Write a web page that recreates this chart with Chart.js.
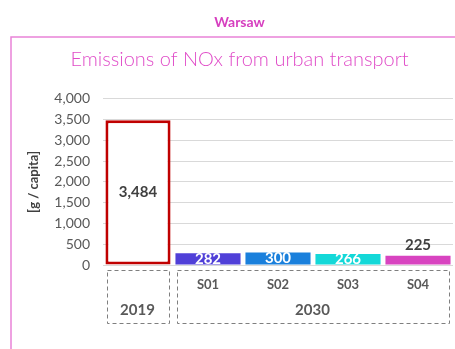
<!DOCTYPE html>
<html>
<head>
<meta charset="utf-8">
<script src="https://cdn.jsdelivr.net/npm/chart.js@4.4.1/dist/chart.umd.min.js"></script>
<style>
  html, body { margin: 0; padding: 0; background: #fff; }
  #wrap { width: 455px; height: 349px; position: relative; }
</style>
</head>
<body>
<div id="wrap"><canvas id="noxChart"></canvas></div>
<script>
// categories and values (g per capita)
const categories = ['2019', 'S01', 'S02', 'S03', 'S04'];
const emissions = [3484, 282, 300, 266, 225];
const barFills = ['#ffffff', '#5040d8', '#1a80dc', '#14d8d8', '#d844c0'];
const barBorders = ['#c00000', '#5040d8', '#1a80dc', '#14d8d8', '#d844c0'];
const labelColors = ['#404040', '#ffffff', '#ffffff', '#ffffff', '#404040'];
const labelInside = [true, true, true, true, false];
const yTicks = [0, 500, 1000, 1500, 2000, 2500, 3000, 3500, 4000];
// year groups under the scenarios
const groupNames = ['2019', '2030'];
const groupFirst = [0, 1];
const groupLast = [0, 4];

const FONT = 'Lato, "Open Sans", sans-serif';

// outer pink frame
const framePlugin = {
    id: 'frame',
    beforeDraw(chart) {
        const ctx = chart.ctx;
        ctx.save();
        ctx.strokeStyle = '#e982d8';
        ctx.lineWidth = 1.5;
        ctx.beginPath();
        ctx.moveTo(11, chart.height);
        ctx.lineTo(11, 37);
        ctx.lineTo(chart.width, 37);
        ctx.stroke();
        ctx.restore();
    }
};

// value labels on the bars
const valueLabels = {
    id: 'valueLabels',
    afterDatasetsDraw(chart) {
        const ctx = chart.ctx;
        const meta = chart.getDatasetMeta(0);
        ctx.save();
        ctx.textAlign = 'center';
        ctx.font = 'bold 15px ' + FONT;
        meta.data.forEach((bar, i) => {
            const v = emissions[i];
            ctx.fillStyle = labelColors[i];
            let y;
            if (labelInside[i]) {
                ctx.textBaseline = 'middle';
                y = (bar.y + bar.base) / 2;
            } else {
                ctx.textBaseline = 'bottom';
                y = bar.y - 3;
            }
            ctx.fillText(v.toLocaleString('en-US'), bar.x, y);
        });
        ctx.restore();
    }
};

// category labels and dashed year boxes below the axis
const groupAxis = {
    id: 'groupAxis',
    afterDraw(chart) {
        const ctx = chart.ctx;
        const x = chart.scales.x;
        const half = (x.getPixelForValue(1) - x.getPixelForValue(0)) / 2;
        const top = chart.chartArea.bottom + 5;
        const bottom = top + 53;
        ctx.save();
        ctx.fillStyle = '#595959';
        ctx.textAlign = 'center';
        ctx.textBaseline = 'middle';
        ctx.font = 'bold 13px ' + FONT;
        categories.forEach((c, i) => {
            if (groupFirst.includes(i) && groupLast.includes(i)) return;
            ctx.fillText(c, x.getPixelForValue(i), top + 15);
        });
        ctx.font = 'bold 15px ' + FONT;
        ctx.strokeStyle = '#7f7f7f';
        ctx.lineWidth = 1;
        ctx.setLineDash([4, 3]);
        groupNames.forEach((g, k) => {
            const l = x.getPixelForValue(groupFirst[k]) - half + 3.5;
            const r = x.getPixelForValue(groupLast[k]) + half - 4.5;
            ctx.strokeRect(Math.round(l) + 0.5, Math.round(top) + 0.5, Math.round(r - l), bottom - top);
            ctx.fillText(g, (l + r) / 2, top + 40);
        });
        ctx.restore();
    }
};

new Chart(document.getElementById('noxChart'), {
    type: 'bar',
    data: {
        labels: categories,
        datasets: [{
            data: emissions,
            backgroundColor: barFills,
            borderColor: barBorders,
            borderWidth: [3, 0, 0, 0, 0],
            borderSkipped: false,
            barPercentage: 0.93,
            categoryPercentage: 1
        }]
    },
    options: {
        responsive: true,
        maintainAspectRatio: false,
        animation: false,
        layout: { padding: { left: 26, right: 2, top: 0, bottom: 0 } },
        plugins: {
            legend: { display: false },
            tooltip: { enabled: false },
            title: {
                display: true,
                text: 'Warsaw',
                color: '#d63fbf',
                font: { family: FONT, size: 14, weight: 'bold' },
                padding: { top: 14, bottom: 9 }
            },
            subtitle: {
                display: true,
                text: 'Emissions of NOx from urban transport',
                color: '#e04cc8',
                font: { family: FONT, size: 20, weight: '300' },
                padding: { top: 8, bottom: 27 }
            }
        },
        scales: {
            x: {
                grid: { display: false, drawTicks: false },
                border: { display: false },
                ticks: { display: false },
                afterFit(scale) { scale.height = 84; }
            },
            y: {
                min: 0,
                max: 4000,
                afterBuildTicks(scale) { scale.ticks = yTicks.map(v => ({ value: v })); },
                grid: { color: '#d9d9d9', drawTicks: false },
                border: { display: false },
                ticks: {
                    color: '#595959',
                    padding: 13,
                    autoSkip: false,
                    font: { family: FONT, size: 14 },
                    callback: v => v.toLocaleString('en-US')
                },
                title: {
                    display: true,
                    text: '[g / capita]',
                    color: '#404040',
                    font: { family: FONT, size: 13, weight: 'bold' },
                    padding: { top: 0, bottom: 0 }
                },
                afterFit(scale) { scale.width = 77; }
            }
        }
    },
    plugins: [framePlugin, valueLabels, groupAxis]
});
</script>
</body>
</html>
